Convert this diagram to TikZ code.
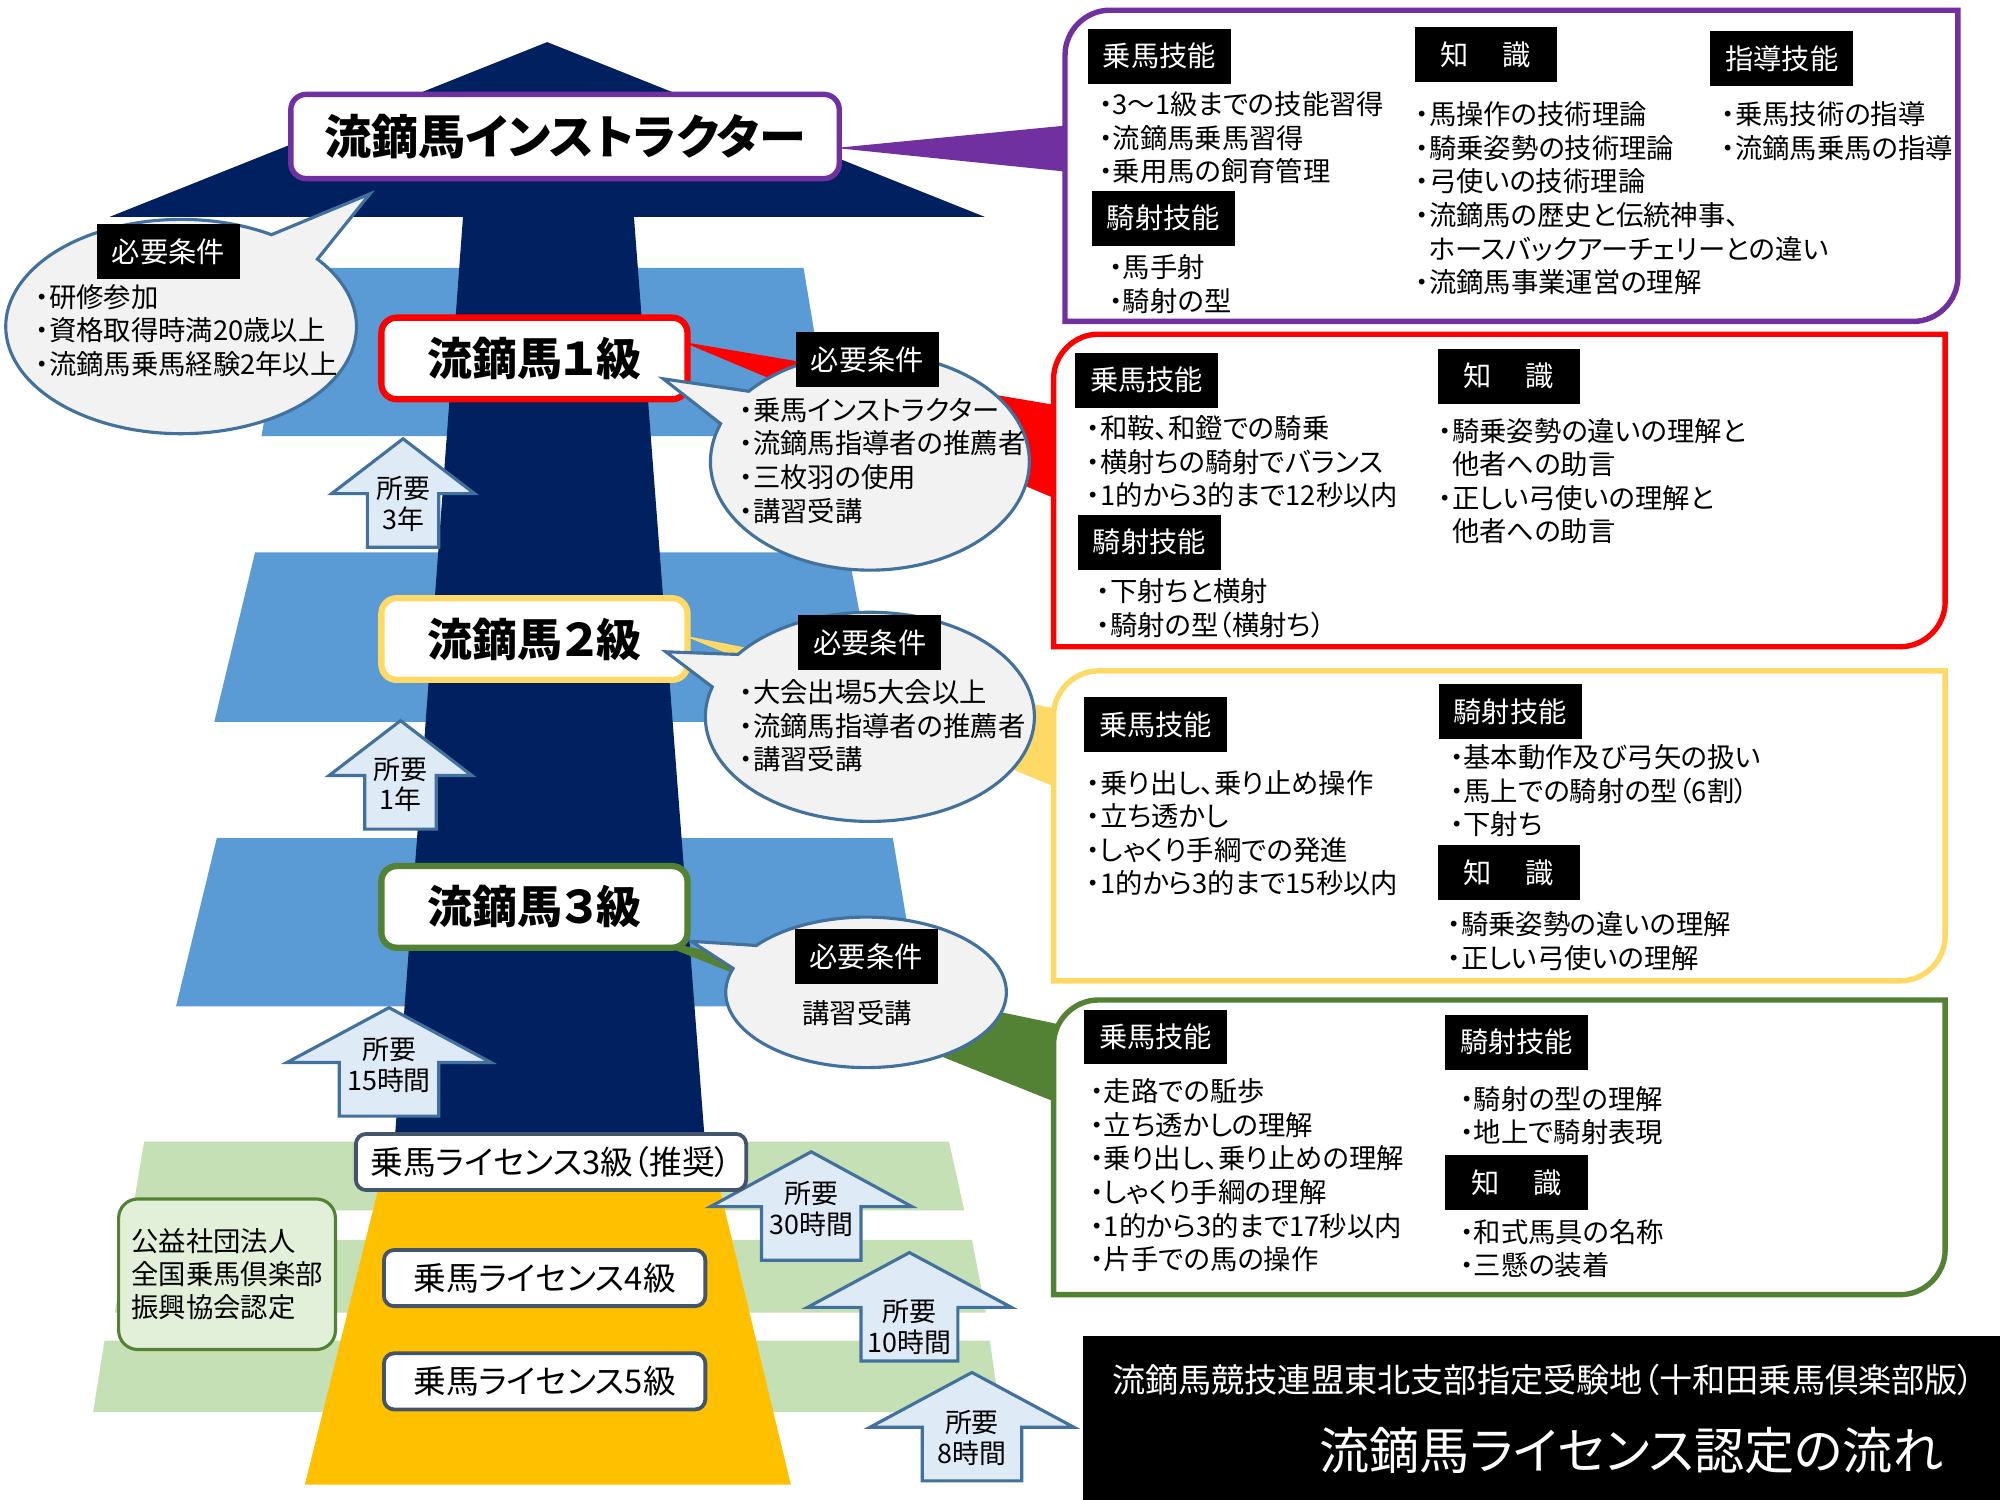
\documentclass[tikz,border=0pt]{standalone}
\usepackage{fontspec}
\setmainfont{Noto Sans CJK JP}[RawFeature=+palt]
\usetikzlibrary{shapes.callouts}

\definecolor{shaftblue}{HTML}{002060}
\definecolor{bandblue}{HTML}{5B9BD5}
\definecolor{lawn}{HTML}{C5E0B4}
\definecolor{gold}{HTML}{FFC000}
\definecolor{lila}{HTML}{7030A0}
\definecolor{rot}{HTML}{FF0000}
\definecolor{gelb}{HTML}{FFD966}
\definecolor{grun}{HTML}{548235}
\definecolor{bubfill}{HTML}{F2F2F2}
\definecolor{bubline}{HTML}{41719C}
\definecolor{arrfill}{HTML}{DEEBF7}
\definecolor{slate}{HTML}{44546A}
\definecolor{mint}{HTML}{E2F0D9}

\tikzset{
  lvl/.style={draw=#1, line width=1.4pt, fill=white, rounded corners=1.2mm, inner sep=0pt,
    minimum width=24mm, minimum height=6.4mm, font=\fontsize{10}{12}\selectfont\bfseries},
  bigbox/.style={draw=#1, line width=1.2pt, fill=white},
  lic/.style={draw=slate, line width=0.85pt, fill=white, rounded corners=0.8mm, inner sep=0pt,
    minimum height=4.4mm, font=\fontsize{7.3}{8.5}\selectfont},
  bubble/.style={ellipse callout, draw=bubline, line width=0.7pt, fill=bubfill, inner sep=0pt,
    callout pointer arc=20},
  tag/.style={fill=black, text=white, inner sep=0pt, minimum width=11.2mm, minimum height=4.3mm,
    font=\fontsize{6.3}{7}\selectfont},
  txt/.style={anchor=north west, inner sep=0pt, align=left, font=\fontsize{6.1}{7.5}\selectfont},
  uparr/.style={draw=bubline, line width=0.7pt, fill=arrfill, line join=miter},
  arrtxt/.style={inner sep=0pt, align=center, font=\fontsize{6}{6.9}\selectfont}
}

\begin{document}
\begin{tikzpicture}[x=0.1mm, y=-0.1mm]
  \useasboundingbox (0,0) rectangle (1568,1176);
  \fill[white] (0,0) rectangle (1568,1176);

  % steps behind the big arrow
  \fill[bandblue] (228,210) -- (630,210) -- (652,342) -- (205,342) -- cycle;
  \fill[bandblue] (200,433) -- (665,433) -- (690,566) -- (168,566) -- cycle;
  \fill[bandblue] (170,657) -- (700,657) -- (722,789) -- (138,789) -- cycle;
  \fill[shaftblue] (429,33) -- (772,170) -- (497,170) -- (553,900) -- (309,900) -- (363,170) -- (86,170) -- cycle;

  \fill[lawn] (113,895) -- (744,895) -- (756,949) -- (104,949) -- cycle;
  \fill[lawn] (100,972) -- (762,972) -- (773,1029) -- (90,1029) -- cycle;
  \fill[lawn] (82,1051) -- (776,1051) -- (784,1107) -- (73,1107) -- cycle;
  \fill[gold] (302,910) -- (559,910) -- (620,1164) -- (239,1164) -- cycle;

  % wedges from the boxes
  \coordinate (tipI) at (655,116);
  \coordinate (tipA) at (535,268);
  \coordinate (tipB) at (535,498);
  \coordinate (tipC) at (505,735);
  \fill[lila] (tipI) -- (840,98) -- (840,135) -- cycle;
  \fill[rot] (tipA) -- (830,318) -- (830,392) -- cycle;
  \fill[gelb] (tipB) -- (830,556) -- (830,618) -- cycle;
  \fill[grun] (tipC) -- (830,803) -- (830,865) -- cycle;

  \draw[bigbox=lila] (835,252) -- (835,43) .. controls (835,24) and (851,8) .. (870,8) -- (1535,8)
    -- (1535,217) .. controls (1535,236) and (1519,252) .. (1500,252) -- cycle;
  \draw[bigbox=rot] (826,507) -- (826,297) .. controls (826,278) and (842,262) .. (861,262) -- (1525,262)
    -- (1525,472) .. controls (1525,491) and (1509,507) .. (1490,507) -- cycle;
  \draw[bigbox=gelb] (826,769) -- (826,561) .. controls (826,542) and (842,526) .. (861,526) -- (1525,526)
    -- (1525,734) .. controls (1525,753) and (1509,769) .. (1490,769) -- cycle;
  \draw[bigbox=grun] (826,1015) -- (826,819) .. controls (826,800) and (842,784) .. (861,784) -- (1525,784)
    -- (1525,980) .. controls (1525,999) and (1509,1015) .. (1490,1015) -- cycle;

  % levels
  \node[lvl=lila, line width=1.2pt, minimum width=43mm, minimum height=6.6mm,
    font=\fontsize{10.5}{13}\selectfont\bfseries] (inst) at (443,107) {流鏑馬インストラクター};
  \node[lvl=rot] (lv1) at (419,281) {流鏑馬１級};
  \node[lvl=gelb] (lv2) at (419,501) {流鏑馬２級};
  \node[lvl=grun] (lv3) at (419,711) {流鏑馬３級};

  % requirements
  \node[bubble, minimum width=27.5mm, minimum height=16.8mm, callout absolute pointer={(290,152)}] (req0) at (142,256) {};
  \node[bubble, minimum width=25mm, minimum height=17mm, callout absolute pointer={(520,297)}] (req1) at (682,362) {};
  \node[bubble, minimum width=25.8mm, minimum height=16.4mm, callout absolute pointer={(522,511)}] (req2) at (682,562) {};
  \node[bubble, minimum width=22mm, minimum height=11.8mm, callout absolute pointer={(542,738)}] (req3) at (679,778) {};

  \node[tag] (need0) at (132,197) {必要条件};
  \node[tag] (need1) at (680,282) {必要条件};
  \node[tag] (need2) at (682,504) {必要条件};
  \node[tag] (need3) at (679,750) {必要条件};
  \node[txt] (req0txt) at (27,222) {・研修参加\\・資格取得時満20歳以上\\・流鏑馬乗馬経験2年以上};
  \node[txt] (req1txt) at (579,311) {・乗馬インストラクター\\・流鏑馬指導者の推薦者\\・三枚羽の使用\\・講習受講};
  \node[txt] (req2txt) at (579,532) {・大会出場5大会以上\\・流鏑馬指導者の推薦者\\・講習受講};
  \node[txt, anchor=center] (req3txt) at (672,794) {講習受講};

  % time arrows
  \foreach \x/\y/\h/\s/\ty/\t [count=\i] in {316/344/56/28/51/3年, 314/565/56/28/50/1年,
      305/790/80/39/45/15時間, 636/903/79/39/45/30時間, 713/982/80/38/58/10時間, 762/1076/80/39/51/8時間}{
    \draw[uparr] (\x,\y) -- ++(\h,43) -- ++({\s-\h},0) -- ++(0,42) -- ++({-2*\s},0) -- ++(0,-42)
      -- ++({\s-\h},0) -- cycle;
    \node[arrtxt] (time\i) at (\x,\y+\ty) {所要\\\t};
  }

  % riding licences
  \node[lic, minimum width=30.6mm] (lic3) at (432,911) {乗馬ライセンス3級（推奨）};
  \node[lic, minimum width=25.2mm] (lic4) at (427,1002) {乗馬ライセンス4級};
  \node[lic, minimum width=25.2mm] (lic5) at (427,1083) {乗馬ライセンス5級};
  \node[draw=grun, line width=0.7pt, fill=mint, rounded corners=1.5mm, inner sep=0pt,
    minimum width=17mm, minimum height=11.8mm, align=left, font=\fontsize{6.1}{7.4}\selectfont]
    (assoc) at (178,999) {公益社団法人\\全国乗馬倶楽部\\振興協会認定};

  % instructor box
  \node[tag] (pT) at (909,44) {乗馬技能};
  \node[tag] (pS) at (912,171) {騎射技能};
  \node[tag] (pK) at (1165,43) {知\hspace{1.2em}識};
  \node[tag] (pL) at (1397,46) {指導技能};
  \node[txt] (pTtxt) at (861,71) {・3〜1級までの技能習得\\・流鏑馬乗馬習得\\・乗用馬の飼育管理};
  \node[txt] (pStxt) at (869,199) {・馬手射\\・騎射の型};
  \node[txt] (pKtxt) at (1109,79) {・馬操作の技術理論\\・騎乗姿勢の技術理論\\・弓使いの技術理論\\・流鏑馬の歴史と伝統神事、\\\phantom{・}ホースバックアーチェリーとの違い\\・流鏑馬事業運営の理解};
  \node[txt] (pLtxt) at (1349,79) {・乗馬技術の指導\\・流鏑馬乗馬の指導};

  % grade 1 box
  \node[tag] (aT) at (899,298) {乗馬技能};
  \node[tag] (aS) at (901,425) {騎射技能};
  \node[tag] (aK) at (1183,295) {知\hspace{1.2em}識};
  \node[txt] (aTtxt) at (851,325) {・和鞍、和鐙での騎乗\\・横射ちの騎射でバランス\\・1的から3的まで12秒以内};
  \node[txt] (aStxt) at (859,453) {・下射ちと横射\\・騎射の型（横射ち）};
  \node[txt] (aKtxt) at (1127,327) {・騎乗姿勢の違いの理解と\\\phantom{・}他者への助言\\・正しい弓使いの理解と\\\phantom{・}他者への助言};

  % grade 2 box
  \node[tag] (bT) at (906,568) {乗馬技能};
  \node[tag] (bS) at (1184,558) {騎射技能};
  \node[tag] (bK) at (1183,684) {知\hspace{1.2em}識};
  \node[txt] (bTtxt) at (851,603) {・乗り出し、乗り止め操作\\・立ち透かし\\・しゃくり手綱での発進\\・1的から3的まで15秒以内};
  \node[txt] (bStxt) at (1136,583) {・基本動作及び弓矢の扱い\\・馬上での騎射の型（6割）\\・下射ち};
  \node[txt] (bKtxt) at (1134,714) {・騎乗姿勢の違いの理解\\・正しい弓使いの理解};

  % grade 3 box
  \node[tag] (cT) at (906,813) {乗馬技能};
  \node[tag] (cS) at (1189,817) {騎射技能};
  \node[tag] (cK) at (1189,927) {知\hspace{1.2em}識};
  \node[txt] (cTtxt) at (854,845) {・走路での駈歩\\・立ち透かしの理解\\・乗り出し、乗り止めの理解\\・しゃくり手綱の理解\\・1的から3的まで17秒以内\\・片手での馬の操作};
  \node[txt] (cStxt) at (1144,851) {・騎射の型の理解\\・地上で騎射表現};
  \node[txt] (cKtxt) at (1144,955) {・和式馬具の名称\\・三懸の装着};

  % banner
  \node[fill=black, inner sep=0pt, minimum width=72mm, minimum height=12.9mm, anchor=north west] (banner) at (848,1047) {};
  \node[text=white, inner sep=0pt, font=\fontsize{7.4}{9}\selectfont] (bansub) at (1210,1082) {流鏑馬競技連盟東北支部指定受験地（十和田乗馬倶楽部版）};
  \node[text=white, inner sep=0pt, font=\fontsize{11.2}{13}\selectfont] (bantitle) at (1279,1137) {流鏑馬ライセンス認定の流れ};
\end{tikzpicture}
\end{document}
